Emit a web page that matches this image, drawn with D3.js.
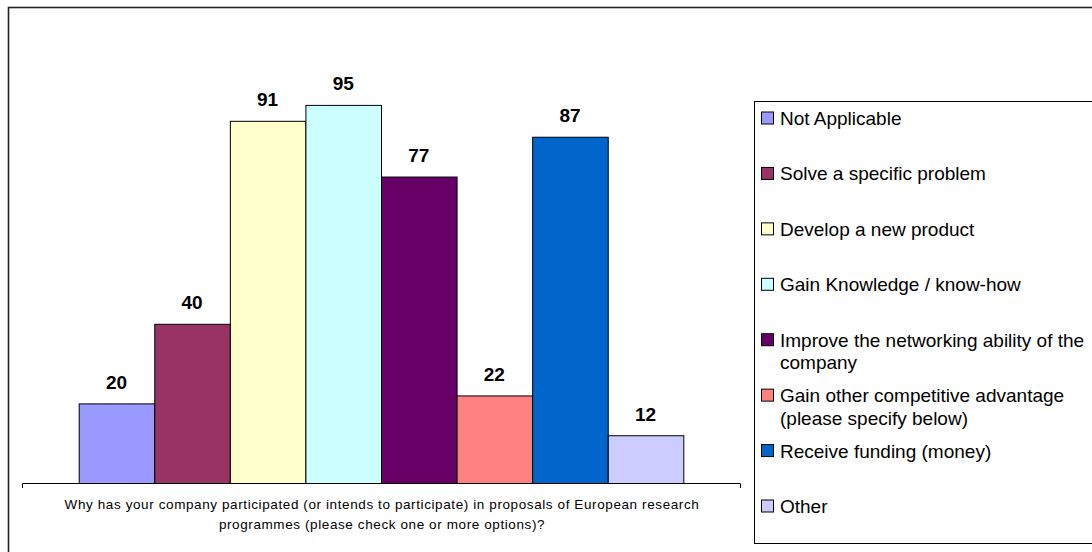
<!DOCTYPE html>
<html>
<head>
<meta charset="utf-8">
<script src="https://cdn.jsdelivr.net/npm/d3@7"></script>
<style>
  body { margin: 0; background: #fff; }
  text { font-family: Arial, "Liberation Sans", sans-serif; }
</style>
</head>
<body>
<script>
// ---------------------- data ----------------------
var categories = [
  "Not Applicable",
  "Solve a specific problem",
  "Develop a new product",
  "Gain Knowledge / know-how",
  "Improve the networking ability of the company",
  "Gain other competitive advantage (please specify below)",
  "Receive funding (money)",
  "Other"
];
var values = [20, 40, 91, 95, 77, 22, 87, 12];
var colors = ["#9999FF", "#993366", "#FFFFCC", "#CCFFFF", "#660066", "#FF8080", "#0066CC", "#CCCCFF"];
var axisTitle = [
  "Why has your company participated (or intends to participate) in proposals of European research",
  "programmes (please check one or more options)?"
];

// ---------------------- draw chart ----------------------
var svg = d3.select("body")
     .append("svg")
     .attr("width", 1092)
     .attr("height", 552);

// outer chart border
svg.append("rect")
     .attr("x", 8.5)
     .attr("y", 7.5)
     .attr("width", 1100)
     .attr("height", 560)
     .attr("fill", "none")
     .attr("stroke", "#222")
     .attr("stroke-width", 1.6);

var x = d3.scaleBand()
     .domain(categories)
     .range([22, 740])
     .paddingInner(0)
     .paddingOuter(0.75);

var y = d3.scaleLinear()
     .domain([0, 100])
     .range([483.5, 85.5]);

svg.selectAll("rect.bar")
     .data(values)
     .enter()
     .append("rect")
     .attr("class", "bar")
     .attr("x", function(d, i) { return x(categories[i]) + 0.5; })
     .attr("y", function(d) { return y(d); })
     .attr("width", x.bandwidth())
     .attr("height", function(d) { return y(0) - y(d); })
     .attr("fill", function(d, i) { return colors[i]; })
     .attr("stroke", "#000")
     .attr("stroke-width", 1);

svg.selectAll("text.val")
     .data(values)
     .enter()
     .append("text")
     .attr("class", "val")
     .text(function(d) { return d; })
     .attr("x", function(d, i) { return x(categories[i]) + x.bandwidth() / 2; })
     .attr("y", function(d) { return y(d) - 15; })
     .attr("text-anchor", "middle")
     .style("font-size", "19px")
     .style("font-weight", "bold")
     .attr("fill", "#000");

// category axis line with end ticks
svg.append("path")
     .attr("d", "M22.5,488V483.5H740.5V488")
     .attr("fill", "none")
     .attr("stroke", "#000")
     .attr("stroke-width", 1);

svg.selectAll("text.atitle")
     .data(axisTitle)
     .enter()
     .append("text")
     .attr("class", "atitle")
     .text(function(d) { return d; })
     .attr("x", 382)
     .attr("y", function(d, i) { return 509 + i * 19.5; })
     .attr("text-anchor", "middle")
     .style("font-size", "13.5px")
     .style("letter-spacing", "0.6px")
     .attr("fill", "#000");

// ---------------------- legend ----------------------
svg.append("rect")
     .attr("x", 754.5)
     .attr("y", 101.5)
     .attr("width", 400)
     .attr("height", 442)
     .attr("fill", "#fff")
     .attr("stroke", "#000")
     .attr("stroke-width", 1);

var ly = d3.scalePoint()
     .domain(categories)
     .range([118, 506]);

var items = svg.selectAll("g.leg")
     .data(categories)
     .enter()
     .append("g")
     .attr("class", "leg")
     .attr("transform", function(d) { return "translate(0," + ly(d) + ")"; });

items.append("rect")
     .attr("x", 761.5)
     .attr("y", -6)
     .attr("width", 12)
     .attr("height", 12)
     .attr("fill", function(d, i) { return colors[i]; })
     .attr("stroke", "#000")
     .attr("stroke-width", 1);

items.each(function(d) {
  var g = d3.select(this);
  var words = d.split(" ");
  var lines = [];
  var cur = "";
  var t = g.append("text").style("font-size", "19px").attr("visibility", "hidden");
  words.forEach(function(w) {
    var test = cur ? cur + " " + w : w;
    t.text(test);
    if (t.node().getComputedTextLength() > 312 && cur) {
      lines.push(cur);
      cur = w;
    } else {
      cur = test;
    }
  });
  lines.push(cur);
  t.remove();
  g.selectAll("text.lt")
     .data(lines)
     .enter()
     .append("text")
     .attr("class", "lt")
     .text(function(l) { return l; })
     .attr("x", 780)
     .attr("y", function(l, i) { return 7 + i * 22.5; })
     .style("font-size", "19px")
     .attr("fill", "#000");
});
</script>
</body>
</html>
